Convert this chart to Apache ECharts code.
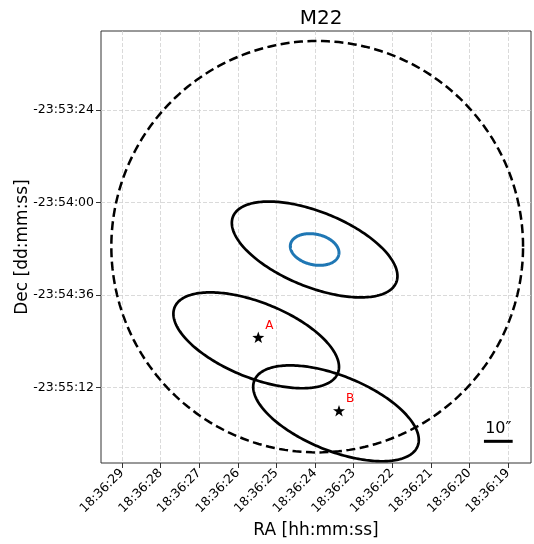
<!DOCTYPE html>
<html>
<head>
<meta charset="utf-8">
<script src="https://cdn.jsdelivr.net/npm/echarts@6/dist/echarts.min.js"></script>
<style>html,body{margin:0;padding:0;background:#fff}#c{width:534px;height:544px}</style>
</head>
<body>
<div id="c"></div>
<script>
// RA in seconds of 18:36:ss ; Dec as arcsec offset from -23:54:00 (north positive)
const raTickValues = [19, 20, 21, 22, 23, 24, 25, 26, 27, 28, 29];
const raTickLabels = ['18:36:19', '18:36:20', '18:36:21', '18:36:22', '18:36:23', '18:36:24', '18:36:25', '18:36:26', '18:36:27', '18:36:28', '18:36:29'];
const decTickValues = [-72, -36, 0, 36];
const decTickLabels = ['-23:55:12', '-23:54:36', '-23:54:00', '-23:53:24'];

// error ellipses (black): centre RA s, centre Dec offset, semi-major ("), semi-minor ("), angle (deg)
const ellipseRA = [24.009, 25.523, 23.456];
const ellipseDec = [-18.25, -53.57, -81.96];
const ellipseMajor = [34.2, 34.2, 34.2];
const ellipseMinor = [14.6, 14.6, 14.6];
const ellipseAngle = [-22, -22, -22];

// inner (blue) ellipse
const innerRA = [24.009];
const innerDec = [-18.25];
const innerMajor = [9.6];
const innerMinor = [5.95];
const innerAngle = [-12.4];

// dashed circle
const circleRA = [23.943];
const circleDec = [-17.16];
const circleRadius = [80];

// sources
const srcNames = ['A', 'B'];
const srcRA = [25.469, 23.378];
const srcDec = [-52.4, -80.94];

// scale bar (10 arcsec)
const scaleLabel = ['10″'];
const scaleRA = [19.251];
const scaleDec = [-92.85];
const scaleLength = [10];

const FONT = 'DejaVu Sans';

function ellipseRenderer(color, width, dash) {
  return function (params, api) {
    const cx = api.value(0), cy = api.value(1), a = api.value(2), b = api.value(3);
    const th = api.value(4) * Math.PI / 180;
    const pts = [];
    const N = 240;
    for (let i = 0; i <= N; i++) {
      const t = i / N * 2 * Math.PI;
      const dx = a * Math.cos(t) * Math.cos(th) - b * Math.sin(t) * Math.sin(th);
      const dy = a * Math.cos(t) * Math.sin(th) + b * Math.sin(t) * Math.cos(th);
      pts.push(api.coord([cx - dx / 15, cy + dy]));
    }
    return {
      type: 'polyline',
      shape: { points: pts },
      style: { fill: 'none', stroke: color, lineWidth: width, lineDash: dash || null }
    };
  };
}

const chart = echarts.init(document.getElementById('c'), null, { renderer: 'canvas' });

const option = {
  animation: false,
  textStyle: { fontFamily: FONT },
  title: {
    text: 'M22',
    left: 316,
    textAlign: 'center',
    top: 4,
    textStyle: { fontFamily: FONT, fontSize: 20, fontWeight: 'normal', color: '#000' }
  },
  grid: { left: 101, right: 3, top: 31, bottom: 81, outerBoundsMode: 'none', containLabel: false, show: true, borderColor: '#333', borderWidth: 1, backgroundColor: 'transparent' },
  xAxis: {
    type: 'value',
    min: 18.404,
    max: 29.544,
    inverse: true,
    name: 'RA [hh:mm:ss]',
    nameLocation: 'middle',
    nameGap: 56,
    nameTextStyle: { fontFamily: FONT, fontSize: 17, color: '#000' },
    axisLine: { show: false, onZero: false },
    axisTick: { show: true, customValues: raTickValues, length: 5, lineStyle: { color: '#333', width: 1 } },
    axisLabel: {
      customValues: raTickValues,
      rotate: 45,
      margin: 8,
      fontSize: 12.5,
      color: '#000',
      fontFamily: FONT,
      formatter: function (v) { const i = raTickValues.indexOf(v); return i >= 0 ? raTickLabels[i] : ''; }
    },
    splitLine: { show: true, lineStyle: { color: '#d0d0d0', width: 0.8, type: [4, 2] } }
  },
  yAxis: {
    type: 'value',
    min: -101.28,
    max: 66.72,
    name: 'Dec [dd:mm:ss]',
    nameLocation: 'middle',
    nameGap: 70,
    nameMoveOverlap: false,
    nameTextStyle: { fontFamily: FONT, fontSize: 17, color: '#000' },
    axisLine: { show: false, onZero: false },
    axisTick: { show: true, customValues: decTickValues, length: 5, lineStyle: { color: '#333', width: 1 } },
    axisLabel: {
      customValues: decTickValues,
      margin: 7,
      fontSize: 12.5,
      color: '#000',
      fontFamily: FONT,
      formatter: function (v) { const i = decTickValues.indexOf(v); return i >= 0 ? decTickLabels[i] : ''; }
    },
    splitLine: { show: true, lineStyle: { color: '#d0d0d0', width: 0.8, type: [4, 2] } }
  },
  series: [
    {
      type: 'custom',
      name: 'circle',
      clip: true,
      encode: { x: 0, y: 1 },
      renderItem: ellipseRenderer('#000', 2.5, [9, 4.5]),
      data: circleRA.map((r, i) => [r, circleDec[i], circleRadius[i], circleRadius[i], 0]),
      z: 3
    },
    {
      type: 'custom',
      name: 'ellipses',
      clip: true,
      encode: { x: 0, y: 1 },
      renderItem: ellipseRenderer('#000', 2.7),
      data: ellipseRA.map((r, i) => [r, ellipseDec[i], ellipseMajor[i], ellipseMinor[i], ellipseAngle[i]]),
      z: 4
    },
    {
      type: 'custom',
      name: 'inner',
      clip: true,
      encode: { x: 0, y: 1 },
      renderItem: ellipseRenderer('#1f77b4', 3),
      data: innerRA.map((r, i) => [r, innerDec[i], innerMajor[i], innerMinor[i], innerAngle[i]]),
      z: 4
    },
    {
      type: 'scatter',
      name: 'sources',
      symbol: 'path://M0,-10 L2.35,-3.24 L9.51,-3.09 L3.8,1.24 L5.88,8.09 L0,4 L-5.88,8.09 L-3.8,1.24 L-9.51,-3.09 L-2.35,-3.24 Z',
      symbolKeepAspect: true,
      symbolSize: 12,
      itemStyle: { color: '#000', opacity: 1 },
      label: {
        show: true,
        position: [17, -6],
        align: 'center',
        verticalAlign: 'middle',
        color: '#ff0000',
        fontSize: 12,
        fontFamily: FONT,
        formatter: function (p) { return p.name; }
      },
      data: srcNames.map((n, i) => ({ name: n, value: [srcRA[i], srcDec[i]] })),
      z: 5
    },
    {
      type: 'custom',
      name: 'scalebar',
      encode: { x: 0, y: 1 },
      renderItem: function (params, api) {
        const cx = api.value(0), cy = api.value(1), len = api.value(2);
        const p1 = api.coord([cx + len / 30, cy]);
        const p2 = api.coord([cx - len / 30, cy]);
        return {
          type: 'group',
          children: [
            { type: 'line', shape: { x1: p1[0], y1: p1[1], x2: p2[0], y2: p2[1] }, style: { stroke: '#000', lineWidth: 3, lineCap: 'square' } },
            { type: 'text', style: { x: (p1[0] + p2[0]) / 2, y: p1[1] - 4, text: scaleLabel[params.dataIndex], fill: '#000', font: '16px "DejaVu Sans"', textAlign: 'center', textVerticalAlign: 'bottom' } }
          ]
        };
      },
      data: scaleRA.map((r, i) => [r, scaleDec[i], scaleLength[i]]),
      z: 5
    }
  ]
};
chart.setOption(option);
</script>
</body>
</html>
